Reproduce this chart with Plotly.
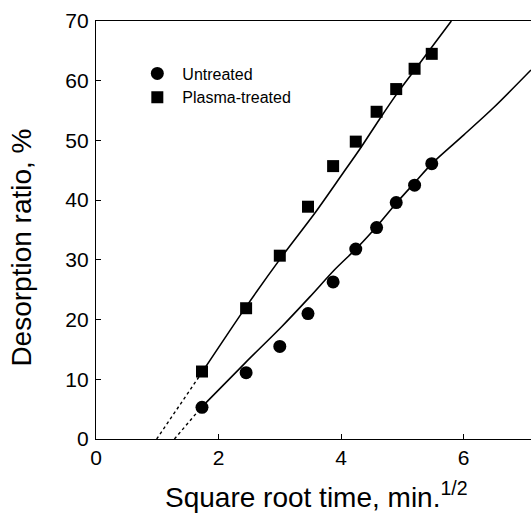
import plotly.graph_objects as go

# sqrt(time) values, min^1/2
sqrt_time = [1.73, 2.45, 3.0, 3.46, 3.87, 4.24, 4.58, 4.9, 5.2, 5.48]
untreated = [5.3, 11.1, 15.5, 21.0, 26.3, 31.8, 35.4, 39.6, 42.5, 46.1]
plasma = [11.3, 21.9, 30.7, 38.9, 45.7, 49.8, 54.8, 58.6, 62.0, 64.5]

# fitted curves
plasma_fit_x = [1.72, 2.44, 3.03, 3.57, 4.03, 4.31, 4.63, 4.91, 5.29, 5.80]
plasma_fit_y = [11.0, 22.0, 30.5, 37.8, 44.5, 48.6, 53.6, 57.8, 63.0, 70.0]
plasma_ext_x = [0.99, 1.72]
plasma_ext_y = [0.0, 11.0]

untreated_fit_x = [1.72, 2.44, 3.03, 3.49, 3.89, 4.26, 4.60, 4.91, 5.19, 5.49, 6.0, 6.5, 7.10]
untreated_fit_y = [5.3, 12.8, 18.8, 23.8, 28.3, 32.0, 35.8, 39.6, 42.8, 46.2, 50.9, 55.6, 61.8]
untreated_ext_x = [1.28, 1.72]
untreated_ext_y = [0.0, 5.3]

x_ticks = [0, 2, 4, 6]
y_ticks = [0, 10, 20, 30, 40, 50, 60, 70]

x_title = "Square root time, min.<sup>1/2</sup>"
y_title = "Desorption ratio, %"

FONT = "Liberation Sans, Arial, sans-serif"
line_style = dict(color="black", width=1.6, shape="spline", smoothing=0.8)
dash_style = dict(color="black", width=1.4, dash="3px,3px")

fig = go.Figure()
fig.add_trace(go.Scatter(x=plasma_ext_x, y=plasma_ext_y, mode="lines", line=dash_style,
                         showlegend=False, hoverinfo="skip"))
fig.add_trace(go.Scatter(x=untreated_ext_x, y=untreated_ext_y, mode="lines", line=dash_style,
                         showlegend=False, hoverinfo="skip"))
fig.add_trace(go.Scatter(x=plasma_fit_x, y=plasma_fit_y, mode="lines", line=line_style,
                         showlegend=False, hoverinfo="skip"))
fig.add_trace(go.Scatter(x=untreated_fit_x, y=untreated_fit_y, mode="lines", line=line_style,
                         showlegend=False, hoverinfo="skip"))
fig.add_trace(go.Scatter(x=sqrt_time, y=untreated, mode="markers", name="Untreated",
                         marker=dict(symbol="circle", size=13, color="black")))
fig.add_trace(go.Scatter(x=sqrt_time, y=plasma, mode="markers", name="Plasma-treated",
                         marker=dict(symbol="square", size=12, color="black")))

fig.update_layout(
    width=531, height=513,
    margin=dict(l=96, r=0, t=21, b=74, autoexpand=False),
    plot_bgcolor="white", paper_bgcolor="white",
    font=dict(family=FONT, color="black"),
    legend=dict(x=0.0835, y=0.915, xanchor="left", yanchor="top",
                bgcolor="rgba(0,0,0,0)", font=dict(size=16, family=FONT),
                itemwidth=40, itemclick=False),
    xaxis=dict(range=[0, 7.1], tickvals=x_ticks, ticks="inside", ticklen=5,
               tickcolor="black", showline=True, linecolor="black", linewidth=1.2,
               mirror=True, showgrid=False, zeroline=False, automargin=False,
               tickfont=dict(size=21, family=FONT)),
    yaxis=dict(range=[0, 70], tickvals=y_ticks, ticks="inside", ticklen=5,
               tickcolor="black", showline=True, linecolor="black", linewidth=1.2,
               showgrid=False, zeroline=False, automargin=False,
               ticklabelstandoff=2,
               tickfont=dict(size=21, family=FONT)),
    annotations=[
        dict(text=x_title, xref="paper", yref="paper", x=0.506, y=-0.085,
             xanchor="center", yanchor="top", showarrow=False,
             font=dict(size=28, family=FONT)),
        dict(text=y_title, xref="paper", yref="paper", x=-0.170, y=0.458,
             xanchor="center", yanchor="middle", textangle=-90, showarrow=False,
             font=dict(size=28, family=FONT)),
    ],
)

fig.write_html("out.html", config={"displayModeBar": False},
               post_script="document.body.style.margin='0';document.body.style.overflow='hidden';")
